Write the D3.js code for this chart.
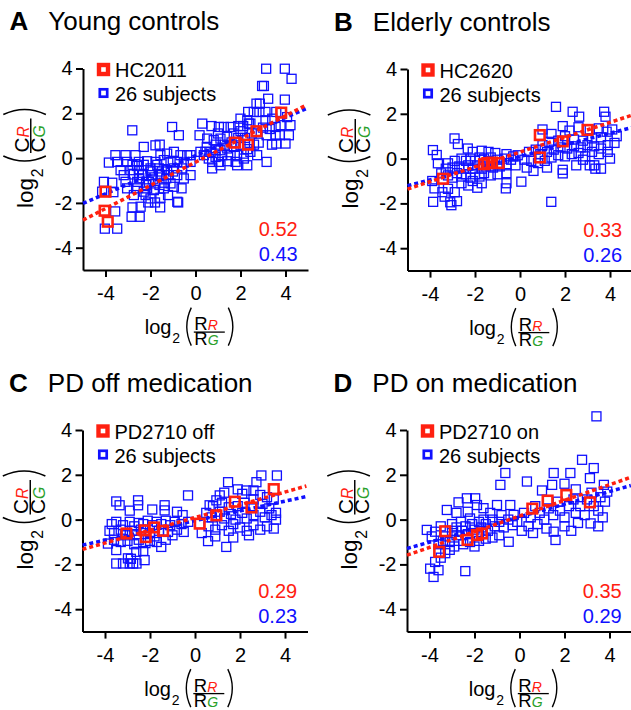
<!DOCTYPE html>
<html>
<head>
<meta charset="utf-8">
<script src="https://cdn.jsdelivr.net/npm/d3@7"></script>
<style>
body { margin: 0; background: #fff; }
svg { display: block; font-family: "Liberation Sans", Arial, sans-serif; }
</style>
</head>
<body>
<svg id="chart" width="631" height="710"></svg>
<script>
var panelLetters = ["A", "B", "C", "D"];
var panelTitles = ["Young controls", "Elderly controls", "PD off medication", "PD on medication"];
var legendNames = ["HC2011", "HC2620", "PD2710 off", "PD2710 on"];
var redSlopes = ["0.52", "0.33", "0.29", "0.35"];
var blueSlopes = ["0.43", "0.26", "0.23", "0.29"];
var xTicks = [-4, -2, 0, 2, 4];
var yTicks = [-4, -2, 0, 2, 4];

// fitted lines, end points
var redFits = [
  [[-5, -2.77], [4.95, 2.38]],
  [[-5, -1.36], [4.95, 1.93]],
  [[-5, -1.33], [4.95, 1.5]],
  [[-5, -1.59], [4.95, 1.89]]
];
var blueFits = [
  [[-5, -2.02], [4.95, 2.22]],
  [[-5, -1.21], [4.95, 1.38]],
  [[-5, -1.14], [4.95, 1.03]],
  [[-5, -1.29], [4.95, 1.52]]
];

// A: young controls
var redA = [[-4.0, -1.5], [-4.04, -2.35], [-3.9, -2.84], [1.75, 0.69], [2.33, 0.6], [2.71, 1.2], [3.81, 2.03]];
var blueA = [
  [-4.07, -1.06], [-3.7, -1.1], [-4.15, -1.5], [-3.65, -1.52], [-3.57, -2.38], [-4.03, -3.15], [-3.48, -3.15],
  [-2.84, -2.62], [-2.48, -2.62], [-2.8, -2.2], [-2.44, -2.17], [-1.57, -2.2], [-0.77, -1.98], [-1.8, -1.98],
  [-2.1, -1.98], [-0.62, -1.35], [-1.22, -1.65],
  [-2.81, 1.24], [-2.3, 0.5], [-1.78, 0.57], [-1.59, 0.6], [-1.04, 1.39], [-0.74, 1.02],
  [-3.56, 0.13], [-3.11, 0.13], [-2.67, 0.13], [-1.56, 0.13], [-1.26, 0.2], [-0.96, 0.28], [-0.67, 0.13], [-0.37, 0.13], [-0.22, 0.13],
  [-3.85, -0.2], [-3.48, -0.17], [-3.04, -0.17], [-2.52, -0.17], [-2.15, -0.14], [-1.78, -0.17], [-1.41, -0.09], [-1.11, -0.17], [-0.81, -0.17], [-0.52, -0.2], [-0.22, -0.17],
  [-3.33, -0.54], [-2.89, -0.54], [-2.52, -0.54], [-2.0, -0.46], [-1.63, -0.46], [-1.26, -0.54], [-0.96, -0.46], [-0.59, -0.46],
  [-3.19, -0.76], [-2.74, -0.73], [-2.37, -0.76], [-1.93, -0.76], [-1.56, -0.76], [-1.19, -0.76], [-0.81, -0.76], [-0.52, -0.91], [-0.22, -0.76],
  [-3.11, -1.06], [-2.59, -1.06], [-2.07, -1.06], [-1.78, -1.13], [-1.41, -1.1], [-1.11, -1.13],
  [-3.04, -1.35], [-2.59, -1.35], [-2.15, -1.35], [-1.85, -1.43], [-1.41, -1.35], [-0.96, -1.28],
  [-2.74, -1.65], [-2.22, -1.65], [-2.0, -1.8], [-1.56, -1.77], [-0.81, -1.95],
  [-2.3, -0.3], [-2.0, -0.6], [-1.7, -0.3], [-1.5, -0.6], [-2.5, -0.9], [-1.3, -0.9], [-2.2, -1.2], [-1.6, -1.2],
  [-1.0, -0.6], [-2.6, -0.35], [-1.9, -0.95], [-2.8, -0.3], [-2.3, -1.5],
  [0.3, 1.54], [0.71, 1.43], [1.04, 1.39], [1.26, 1.39], [1.56, 1.39], [1.9, 1.43], [2.12, 1.43], [2.44, 1.54],
  [0.18, 1.02], [0.52, 0.87], [0.81, 0.8], [1.11, 0.87], [1.41, 0.95],
  [0.22, 0.28], [0.44, 0.28], [0.67, 0.28], [0.89, 0.35], [1.11, 0.35], [1.41, 0.43], [1.7, 0.5], [2.0, 0.57],
  [0.37, 0.13], [0.59, -0.02], [0.89, 0.05], [1.19, 0.13], [1.56, 0.13], [1.85, 0.13], [2.15, 0.2], [2.44, 0.28],
  [0.74, -0.17], [1.04, -0.17], [1.41, -0.14], [1.78, -0.17], [2.15, -0.02],
  [0.74, -0.46], [1.11, -0.32], [1.85, -0.32], [2.3, -0.32], [2.74, 0.13], [3.16, -0.17],
  [2.0, 1.76], [2.3, 1.69], [2.37, 1.54], [3.11, 1.69], [3.41, 1.76], [4.07, 1.83],
  [3.0, 1.36], [3.56, 1.39], [3.78, 1.47], [4.22, 1.47],
  [3.16, 1.02], [3.56, 1.02], [3.75, 1.02], [4.15, 1.02], [3.59, 0.65], [4.0, 0.65], [2.81, 0.69],
  [2.34, 2.06], [2.59, 2.06], [2.84, 2.06], [3.11, 2.06], [3.59, 2.06],
  [2.71, 2.43], [2.86, 2.43], [3.23, 2.65], [3.97, 2.61],
  [2.96, 3.22], [3.04, 3.22], [3.14, 3.99], [3.97, 3.99], [4.27, 3.54],
  [1.6, 0.7], [1.9, 0.9], [2.2, 0.9], [2.5, 1.1], [1.3, 0.6], [0.9, 0.6], [2.6, 0.6], [2.3, 0.4],
  [3.3, 1.3], [2.0, 1.2], [1.7, 1.1], [3.4, 0.6], [0.5, 0.5], [1.0, 1.1]
];

// B: elderly controls
var redB = [[-3.42, -0.9], [-1.6, -0.25], [-1.45, -0.2], [-1.25, -0.18], [-0.95, -0.2], [0.88, 1.05], [0.88, 0.05], [1.9, 0.77], [3.0, 1.28]];
var blueB = [
  [-3.87, 0.38], [-3.7, 0.16], [-2.91, 0.9], [-2.76, 0.65], [-2.32, 0.45], [-2.1, 0.3], [-1.7, 0.35], [-1.4, 0.3],
  [-1.1, 0.25], [-0.6, 0.2], [-0.3, 0.1], [-0.1, 0.15],
  [-3.65, -0.21], [-3.2, -0.21], [-2.9, -0.1], [-2.6, 0.0], [-2.4, -0.1], [-2.2, 0.0], [-2.0, -0.1], [-1.8, 0.05],
  [-1.6, 0.0], [-1.3, 0.05], [-1.0, -0.05], [-0.7, 0.0], [-0.4, -0.05],
  [-3.5, -0.66], [-3.3, -0.45], [-3.0, -0.4], [-2.7, -0.35], [-2.5, -0.45], [-2.3, -0.3], [-2.1, -0.45], [-1.9, -0.3],
  [-1.7, -0.45], [-1.5, -0.35], [-1.2, -0.4], [-0.9, -0.35], [-0.6, -0.3], [-0.2, -0.3],
  [-3.9, -1.0], [-3.2, -0.75], [-3.0, -0.85], [-2.8, -0.65], [-2.6, -0.8], [-2.4, -0.7], [-2.2, -0.85], [-2.0, -0.7],
  [-1.8, -0.8], [-1.6, -0.65], [-1.3, -0.75], [-1.0, -0.7], [-0.6, -0.65],
  [-3.8, -1.33], [-3.45, -1.5], [-3.2, -1.35], [-2.9, -1.5], [-2.6, -1.1], [-2.3, -1.2], [-2.1, -1.0], [-1.9, -1.3],
  [-1.7, -1.1], [-0.6, -1.1], [-0.63, -1.33], [0.06, -1.03],
  [-3.86, -1.93], [-3.05, -2.08], [-3.1, -1.95], [-2.8, -1.9], [-3.35, -1.7], [1.39, -1.93],
  [1.6, 2.31], [2.34, 2.09], [2.63, 1.87], [3.74, 2.09], [3.8, 1.87], [1.0, 1.3], [1.4, 1.1], [1.9, 1.45], [2.2, 1.25],
  [2.6, 1.4], [3.1, 1.3], [3.5, 1.35], [3.85, 1.2], [4.1, 1.3], [4.3, 1.0], [3.6, 0.95], [3.2, 0.9], [2.8, 0.8],
  [2.4, 0.85], [2.0, 1.0], [1.7, 0.8], [1.3, 0.75], [1.0, 0.6], [0.7, 0.4], [0.4, 0.3], [0.9, 0.2], [1.2, 0.3],
  [1.5, 0.4], [1.8, 0.5], [2.1, 0.45], [2.4, 0.55], [2.7, 0.5], [3.0, 0.6], [3.3, 0.55], [3.6, 0.45], [3.9, 0.6],
  [4.2, 0.7], [0.2, -0.05], [0.5, -0.1], [0.8, -0.2], [1.1, -0.1], [1.4, 0.05], [1.7, 0.15], [2.0, 0.1], [2.3, 0.2],
  [2.6, 0.25], [2.9, 0.1], [3.2, 0.3], [3.5, 0.2], [3.9, 0.3], [1.2, -0.4], [1.9, -0.5], [2.5, -0.3], [3.1, -0.3],
  [3.3, -0.3], [3.35, -0.45], [3.6, -0.45], [2.8, -0.05], [0.3, -0.4], [0.6, -0.55], [4.0, 0.0], [1.9, -0.66]
];

// C: PD off medication
var redC = [[-3.05, -0.62], [-2.24, -0.48], [-2.19, -0.78], [-1.82, -0.35], [-1.42, -0.5], [0.21, -0.18], [0.95, 0.19], [1.77, 0.8], [2.51, 0.54], [3.5, 1.36]];
var blueC = [
  [-3.5, 0.81], [-3.35, 0.64], [-2.53, 0.86], [-2.53, 0.64], [-1.35, 0.64], [-1.35, 0.41], [-2.9, 0.4], [-1.9, 0.45],
  [-0.8, 0.35], [-0.55, 0.2],
  [-3.7, -0.2], [-3.5, -0.1], [-3.2, -0.25], [-2.9, -0.1], [-2.7, -0.3], [-2.5, -0.15], [-2.3, -0.2], [-2.1, -0.05],
  [-1.9, -0.25], [-1.7, -0.1], [-1.5, -0.2], [-1.3, -0.05], [-1.1, -0.25], [-0.9, -0.1], [-0.6, -0.2], [-0.3, -0.1],
  [-3.8, -0.5], [-3.6, -0.6], [-3.3, -0.45], [-3.1, -0.7], [-2.8, -0.5], [-2.6, -0.65], [-2.4, -0.45], [-2.0, -0.6],
  [-1.8, -0.75], [-1.6, -0.5], [-1.2, -0.55], [-1.0, -0.7], [-0.8, -0.45], [-0.5, -0.55],
  [-3.87, -1.07], [-3.5, -1.36], [-3.6, -0.9], [-3.3, -1.0], [-3.0, -0.95], [-2.7, -1.1], [-2.5, -0.9], [-2.2, -1.05],
  [-2.0, -0.95], [-1.7, -1.0], [-1.5, -1.22], [-1.3, -0.9], [-2.61, -1.44], [-2.3, -1.4], [-2.98, -1.73], [-2.24, -1.81],
  [-3.5, -1.96], [-3.2, -1.96], [-2.9, -1.96], [-2.75, -1.96], [-2.6, -1.96], [-2.85, -1.75],
  [2.95, 1.97], [3.64, 1.97], [1.47, 1.67], [2.73, 1.67], [2.28, 1.3], [-0.31, 1.08], [1.1, 1.08], [0.95, 0.86],
  [0.65, 0.64], [1.3, 1.2], [1.9, 1.35], [2.1, 1.15], [2.6, 1.3], [2.9, 1.1], [3.2, 1.0], [3.5, 0.9], [0.8, 0.6],
  [1.2, 0.75], [1.5, 0.55], [1.9, 0.6], [2.2, 0.75], [2.6, 0.9], [3.0, 0.7], [3.3, 0.5], [3.6, 0.3],
  [0.5, 0.3], [0.75, 0.1], [1.1, 0.35], [1.3, 0.05], [1.6, 0.25], [1.8, 0.0], [2.1, 0.3], [2.3, 0.05], [2.6, 0.2],
  [2.9, 0.35], [3.1, 0.1], [3.4, 0.2], [3.6, 0.0],
  [0.6, -0.3], [0.9, -0.45], [1.2, -0.25], [1.5, -0.5], [1.7, -0.2], [2.0, -0.35], [2.3, -0.5], [2.6, -0.25],
  [2.9, -0.45], [3.2, -0.3], [3.5, -0.4], [0.58, -0.96], [1.39, -1.22], [0.9, -0.75], [1.7, -0.8], [2.4, -0.7], [0.3, -0.6]
];

// D: PD on medication
var redD = [[-3.3, -0.52], [-3.57, -1.44], [-2.31, -0.91], [-1.89, -0.69], [-1.67, -0.62], [0.57, 0.49], [1.25, 0.85], [2.08, 1.1], [3.13, 0.77]];
var blueD = [
  [3.42, 4.61], [2.78, 2.67], [3.3, 2.3], [-0.63, 2.08], [1.52, 2.08], [2.26, 2.08], [3.13, 1.85], [0.33, 1.7],
  [-0.85, 1.55], [1.45, 1.55], [3.75, 1.55], [3.9, 1.25], [2.0, 1.6], [1.0, 1.3], [2.5, 1.35], [3.2, 1.2], [3.6, 1.0],
  [-2.71, 0.77], [-2.34, 0.95], [-1.97, 0.95], [-1.89, 0.65], [-3.23, 0.43], [-1.6, 0.51], [-1.0, 0.65], [-0.41, 0.65],
  [-0.26, 0.21], [-2.8, 0.3], [-2.3, 0.35], [-1.3, 0.3], [-0.8, 0.2],
  [-4.12, -0.46], [-3.75, -0.54], [-3.9, -0.75], [-3.5, -0.3], [-3.3, -0.75], [-3.0, -0.2], [-3.0, -0.5], [-2.8, -0.35],
  [-2.8, -0.7], [-2.6, -0.1], [-2.55, -0.5], [-2.4, -0.3], [-2.3, -0.65], [-2.1, -0.2], [-2.0, -0.45], [-1.8, -0.1],
  [-1.7, -0.35], [-1.5, -0.2], [-1.4, -0.5], [-1.2, 0.0], [-1.1, -0.3], [-0.9, -0.1], [-0.7, -0.35], [-0.5, 0.0],
  [-0.3, -0.25], [-0.1, -0.1], [-1.6, 0.0], [-2.2, 0.05],
  [-3.6, -1.1], [-3.4, -0.95], [-3.1, -1.0], [-2.9, -1.2], [-2.7, -0.95], [-2.5, -1.1], [-2.2, -1.0], [-2.0, -1.2],
  [-1.8, -0.95], [-1.5, -0.85], [-1.2, -0.8], [-0.48, -0.99], [-0.9, -0.7],
  [-3.97, -2.19], [-3.82, -2.56], [-3.6, -2.26], [-2.41, -2.3], [-3.75, -1.89], [-3.5, -1.7], [-3.3, -1.5], [-3.1, -1.35],
  [0.2, 0.3], [0.5, 0.1], [0.7, 0.6], [0.9, 0.3], [1.1, 0.0], [1.3, 0.5], [1.5, 0.2], [1.7, 0.8], [1.8, 0.4],
  [2.0, 0.1], [2.2, 0.6], [2.4, 0.9], [2.5, 0.3], [2.7, 0.6], [2.9, 0.2], [3.0, 0.9], [3.3, 0.6], [3.5, 0.4],
  [3.8, 0.8], [3.7, 0.1], [0.4, -0.3], [0.8, -0.2], [1.2, -0.4], [1.52, -0.54], [1.6, -0.91], [2.0, -0.3],
  [2.6, -0.15], [3.16, -0.17], [3.5, -0.3], [2.3, -0.5], [0.1, -0.5], [0.6, -0.6]
];

var reds = [redA, redB, redC, redD];
var blues = [blueA, blueB, blueC, blueD];

var RED = "#ff2010", BLUE = "#1010ff", GREEN = "#2aa02a";
var FONT = "'Liberation Sans', Arial, sans-serif";

var svg = d3.select("#chart");
var origins = [[83, 68.5], [407.5, 69], [82.5, 430], [407, 430]];
var plotW = 225, plotH = 201.6;

// log2(X_R / X_G) label, drawn in its own frame
function axisLabel(parent, letter, tx, ty, rot) {
  var lg = parent.append("g")
    .attr("transform", "translate(" + tx + "," + ty + ")" + (rot ? " rotate(-90) scale(1.12)" : ""));
  lg.append("text").attr("font-size", 20).text("log");
  lg.append("text").attr("x", 27.5).attr("y", 9).attr("font-size", 14).text("2");
  lg.append("path").attr("d", "M46.5,-26.5 Q37.5,-7.5 46.5,11.5")
    .attr("fill", "none").attr("stroke", "#000").attr("stroke-width", 1.4);
  lg.append("text").attr("x", 49.5).attr("y", -4).attr("font-size", 18.5).text(letter);
  lg.append("text").attr("x", 63).attr("y", -4).attr("font-size", 14).attr("font-style", "italic")
    .attr("fill", RED).text("R");
  lg.append("line").attr("x1", 49).attr("x2", 80).attr("y1", -2).attr("y2", -2)
    .attr("stroke", "#000").attr("stroke-width", 1.3);
  lg.append("text").attr("x", 49.5).attr("y", 11).attr("font-size", 18.5).text(letter);
  lg.append("text").attr("x", 63).attr("y", 11).attr("font-size", 14).attr("font-style", "italic")
    .attr("fill", GREEN).text("G");
  lg.append("path").attr("d", "M83.5,-26.5 Q92.5,-7.5 83.5,11.5")
    .attr("fill", "none").attr("stroke", "#000").attr("stroke-width", 1.4);
}

function drawPanel(i) {
  var x = d3.scaleLinear().domain([-5, 5]).range([0, plotW]);
  var y = d3.scaleLinear().domain([-5, 4]).range([plotH, 0]);
  var g = svg.append("g")
    .attr("transform", "translate(" + origins[i][0] + "," + origins[i][1] + ")");

  // title
  g.append("text").attr("x", -73.5).attr("y", -38.5).attr("font-size", 26)
    .attr("font-weight", "bold").text(panelLetters[i]);
  g.append("text").attr("x", -34.7).attr("y", -38.5).attr("font-size", 26).text(panelTitles[i]);

  // axes
  var xa = g.append("g").attr("transform", "translate(0," + plotH + ")")
    .call(d3.axisBottom(x).tickValues(xTicks).tickSize(7).tickSizeOuter(0).tickPadding(9)
      .tickFormat(function(d) { return String(d); }));
  var ya = g.append("g")
    .call(d3.axisLeft(y).tickValues(yTicks).tickSize(7).tickSizeOuter(0).tickPadding(3.5)
      .tickFormat(function(d) { return String(d); }));
  [xa, ya].forEach(function(a) {
    a.attr("font-family", FONT).attr("font-size", 20);
    a.selectAll("path, line").attr("stroke", "#000").attr("stroke-width", 2);
    a.selectAll("text").attr("fill", "#000");
  });

  axisLabel(g, "R", x(0) - 50.7, plotH + 64, false);
  axisLabel(g, "C", -50, 139.5, true);

  // blue squares: 26 subjects
  g.selectAll("rect.blue").data(blues[i]).join("rect")
    .attr("class", "blue")
    .attr("x", function(d) { return x(d[0]) - 4.5; })
    .attr("y", function(d) { return y(d[1]) - 4.5; })
    .attr("width", 9).attr("height", 9)
    .attr("fill", "none").attr("stroke", BLUE).attr("stroke-width", 1.3);

  var line = d3.line().x(function(d) { return x(d[0]); }).y(function(d) { return y(d[1]); });
  g.append("path").datum(blueFits[i]).attr("d", line)
    .attr("fill", "none").attr("stroke", BLUE).attr("stroke-width", 3.5).attr("stroke-dasharray", "4,3");
  g.append("path").datum(redFits[i]).attr("d", line)
    .attr("fill", "none").attr("stroke", RED).attr("stroke-width", 3.5).attr("stroke-dasharray", "4,3");

  // red squares: single subject
  g.selectAll("rect.red").data(reds[i]).join("rect")
    .attr("class", "red")
    .attr("x", function(d) { return x(d[0]) - 4.8; })
    .attr("y", function(d) { return y(d[1]) - 4.8; })
    .attr("width", 9.6).attr("height", 9.6)
    .attr("fill", "none").attr("stroke", RED).attr("stroke-width", 2.6);

  // legend
  g.append("rect").attr("x", 16).attr("y", -3.5).attr("width", 9).attr("height", 9)
    .attr("fill", "none").attr("stroke", RED).attr("stroke-width", 4.4);
  g.append("rect").attr("x", 16.8).attr("y", 20.8).attr("width", 7.4).attr("height", 7.4)
    .attr("fill", "none").attr("stroke", BLUE).attr("stroke-width", 2.7);
  g.append("text").attr("x", 32).attr("y", 8.5).attr("font-size", 20).text(legendNames[i]);
  g.append("text").attr("x", 32).attr("y", 32.5).attr("font-size", 20).text("26 subjects");

  // slopes
  g.append("text").attr("x", 214.7).attr("y", 167.5).attr("font-size", 20)
    .attr("text-anchor", "end").attr("fill", RED).text(redSlopes[i]);
  g.append("text").attr("x", 214.7).attr("y", 192.5).attr("font-size", 20)
    .attr("text-anchor", "end").attr("fill", BLUE).text(blueSlopes[i]);
}

for (var i = 0; i < 4; i++) drawPanel(i);
</script>
</body>
</html>
